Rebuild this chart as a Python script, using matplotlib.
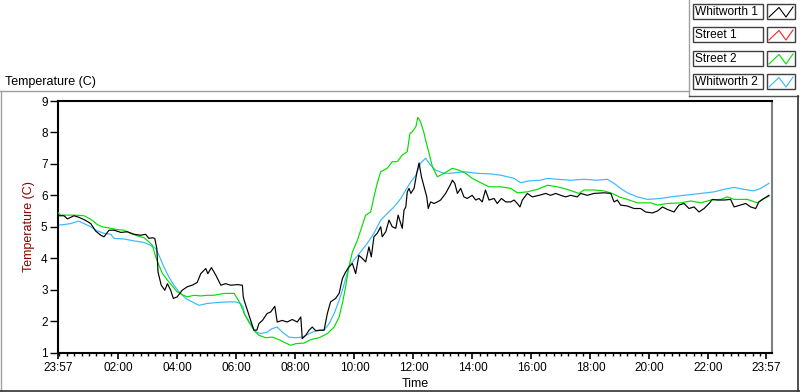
import matplotlib
matplotlib.use("Agg")
import matplotlib.pyplot as plt
from matplotlib.patches import Rectangle

plt.rcParams['font.family'] = ['Liberation Sans', 'DejaVu Sans']

# Series names / colours as in the LabVIEW legend
series_names = ["Whitworth 1", "Street 1", "Street 2", "Whitworth 2"]
series_colors = ["#000000", "#ff2020", "#00e000", "#38b8ff"]

# Elapsed hours since 23:57 and temperature (C)
w1_hours = [0.00, 0.20, 0.32, 0.54, 0.71, 0.94, 1.11, 1.28, 1.45, 1.56, 1.73, 1.90,
            2.13, 2.35, 2.58, 2.80, 2.97, 3.08, 3.20, 3.28, 3.35, 3.39, 3.50, 3.62,
            3.71, 3.82, 3.91, 4.04, 4.21, 4.38, 4.55, 4.72, 4.84, 5.01, 5.08, 5.20,
            5.35, 5.52, 5.68, 5.85, 6.08, 6.25, 6.28, 6.31, 6.42, 6.53, 6.64, 6.74,
            6.81, 6.93, 7.09, 7.21, 7.35, 7.43, 7.60, 7.77, 7.94, 8.11, 8.23, 8.28,
            8.40, 8.51, 8.62, 8.74, 8.91, 9.02, 9.13, 9.24, 9.41, 9.53, 9.64, 9.75,
            9.86, 9.98, 10.09, 10.20, 10.32, 10.43, 10.54, 10.62, 10.71, 10.82, 10.94,
            10.99, 11.11, 11.22, 11.33, 11.45, 11.53, 11.62, 11.67, 11.73, 11.79,
            11.84, 11.90, 11.96, 12.07, 12.16, 12.24, 12.32, 12.41, 12.50, 12.55,
            12.63, 12.75, 12.86, 12.97, 13.14, 13.29, 13.37, 13.45, 13.54, 13.65,
            13.76, 13.87, 14.04, 14.16, 14.27, 14.38, 14.49, 14.61, 14.78, 14.89,
            15.03, 15.18, 15.35, 15.46, 15.57, 15.66, 15.74, 15.91, 16.08, 16.31,
            16.53, 16.70, 16.87, 17.04, 17.21, 17.38, 17.60, 17.72, 17.94, 18.17,
            18.51, 18.74, 18.85, 18.96, 19.07, 19.30, 19.53, 19.75, 19.92, 20.15,
            20.32, 20.49, 20.66, 20.88, 21.05, 21.22, 21.39, 21.56, 21.73, 21.90,
            22.07, 22.18, 22.35, 22.58, 22.80, 22.92, 23.14, 23.31, 23.48, 23.65,
            23.76, 23.93, 24.10]
w1_temp = [5.35, 5.35, 5.25, 5.35, 5.30, 5.20, 5.10, 4.86, 4.73, 4.68, 4.89, 4.89,
           4.82, 4.84, 4.76, 4.73, 4.76, 4.63, 4.65, 4.63, 4.31, 3.56, 3.14, 2.98,
           3.19, 2.98, 2.72, 2.77, 2.98, 3.09, 3.14, 3.23, 3.51, 3.67, 3.51, 3.70,
           3.46, 3.14, 3.19, 3.14, 3.16, 3.14, 2.77, 2.66, 2.34, 2.02, 1.71, 1.71,
           1.92, 2.02, 2.24, 2.29, 2.47, 1.97, 2.02, 1.97, 2.05, 1.97, 2.13, 1.44,
           1.55, 1.71, 1.81, 1.69, 1.71, 1.71, 2.24, 2.61, 2.72, 2.88, 3.35, 3.56,
           3.72, 3.83, 3.51, 4.09, 3.99, 3.88, 4.36, 4.04, 4.68, 4.79, 5.00,
           4.68, 4.84, 5.21, 5.00, 4.95, 5.37, 5.10, 4.95, 5.53, 5.63,
           6.11, 6.22, 6.06, 6.22, 6.70, 7.03, 6.59, 6.27, 5.95, 5.58,
           5.79, 5.74, 5.79, 5.85, 6.06, 6.32, 6.48, 6.38, 6.06, 6.22,
           5.95, 5.90, 6.00, 5.85, 5.90, 5.79, 6.17, 5.85, 5.90, 5.74,
           5.90, 5.79, 5.79, 5.85, 5.74, 5.63, 5.85, 6.06, 5.95, 6.00,
           6.06, 6.00, 6.06, 6.00, 5.95, 6.00, 5.95, 6.06, 6.00, 6.06,
           6.08, 6.06, 5.79, 5.85, 5.69, 5.66, 5.58, 5.58, 5.47, 5.44,
           5.50, 5.63, 5.55, 5.47, 5.69, 5.74, 5.58, 5.63, 5.47, 5.58,
           5.74, 5.87, 5.85, 5.85, 5.87, 5.63, 5.69, 5.74, 5.63, 5.58,
           5.79, 5.90, 6.00]

s1_hours = []
s1_temp = []

s2_hours = [0.00, 0.09, 0.54, 0.88, 1.11, 1.22, 1.33, 1.50, 1.73, 2.01, 2.24, 2.46,
            2.69, 2.92, 3.08, 3.20, 3.31, 3.42, 3.54, 3.71, 3.87, 4.04, 4.21, 4.38,
            4.61, 4.84, 5.06, 5.29, 5.63, 5.97, 6.14, 6.27, 6.31, 6.47, 6.64, 6.81,
            7.04, 7.26, 7.49, 7.72, 7.89, 8.06, 8.34, 8.57, 8.85, 9.13, 9.36, 9.53,
            9.64, 9.75, 9.86, 9.98, 10.15, 10.26, 10.43, 10.60, 10.71, 10.82, 10.94,
            11.16, 11.33, 11.50, 11.67, 11.84, 11.93, 12.01, 12.13, 12.20, 12.29,
            12.41, 12.46, 12.58, 12.69, 12.86, 13.08, 13.37, 13.59, 13.82, 14.04,
            14.27, 14.61, 15.01, 15.35, 15.57, 15.91, 16.25, 16.59, 16.93, 17.26,
            17.66, 17.83, 18.17, 18.51, 18.79, 19.02, 19.30, 19.64, 20.09, 20.32,
            20.66, 21.11, 21.45, 21.79, 22.13, 22.47, 22.69, 22.92, 23.37, 23.71,
            23.87, 24.10]
s2_temp = [5.45, 5.37, 5.37, 5.35, 5.24, 5.16, 5.07, 5.00, 4.96, 4.91, 4.89, 4.79,
           4.71, 4.65, 4.52, 4.41, 4.04, 3.78, 3.51, 3.30, 3.12, 2.93, 2.84, 2.77,
           2.82, 2.80, 2.82, 2.82, 2.88, 2.88, 2.62, 2.35, 2.24, 1.97, 1.71, 1.55,
           1.47, 1.49, 1.41, 1.30, 1.23, 1.28, 1.30, 1.41, 1.47, 1.60, 1.81, 2.13,
           2.56, 3.09, 3.72, 4.20, 4.57, 4.89, 5.37, 5.47, 5.95, 6.38, 6.75,
           6.86, 7.07, 7.07, 7.28, 7.39, 7.97, 8.02, 8.18, 8.48, 8.34,
           7.97, 7.76, 7.33, 6.91, 6.59, 6.70, 6.86, 6.80, 6.70, 6.54,
           6.43, 6.27, 6.27, 6.22, 6.08, 6.11, 6.19, 6.32, 6.27, 6.19,
           6.06, 6.17, 6.17, 6.14, 6.06, 5.95, 5.87, 5.76, 5.76, 5.69,
           5.74, 5.76, 5.82, 5.76, 5.85, 5.87, 5.95, 5.87, 5.87, 5.76,
           5.87, 5.97]

w2_hours = [0.00, 0.20, 0.43, 0.71, 0.88, 1.11, 1.28, 1.56, 1.79, 1.90, 2.24, 2.58,
            2.92, 3.14, 3.31, 3.42, 3.59, 3.76, 3.93, 4.10, 4.33, 4.55, 4.78, 5.06,
            5.40, 5.74, 6.02, 6.19, 6.27, 6.33, 6.53, 6.70, 6.87, 7.09, 7.26, 7.43,
            7.60, 7.83, 8.06, 8.28, 8.51, 8.79, 9.02, 9.19, 9.36, 9.53, 9.69, 9.86,
            10.03, 10.26, 10.48, 10.71, 10.94, 11.16, 11.39, 11.62, 11.79, 11.96,
            12.13, 12.29, 12.46, 12.63, 12.80, 13.08, 13.31, 13.76, 14.21, 14.67,
            15.01, 15.46, 15.68, 15.97, 16.36, 16.59, 16.93, 17.38, 17.83, 18.28,
            18.62, 18.85, 19.07, 19.30, 19.64, 19.98, 20.43, 20.77, 21.22, 21.79,
            22.24, 22.58, 22.92, 23.25, 23.59, 23.82, 24.10]
w2_temp = [5.05, 5.07, 5.10, 5.18, 5.10, 5.00, 4.89, 4.79, 4.76, 4.63, 4.61, 4.55,
           4.50, 4.41, 4.31, 4.10, 3.72, 3.40, 3.14, 2.93, 2.72, 2.61, 2.50, 2.56,
           2.59, 2.61, 2.61, 2.56, 2.45, 2.20, 1.92, 1.65, 1.60, 1.65, 1.76, 1.81,
           1.65, 1.49, 1.47, 1.49, 1.60, 1.71, 1.71, 1.92, 2.24, 2.66, 3.14, 3.72,
           3.94, 4.20, 4.47, 4.79, 5.21, 5.42, 5.63, 5.90, 6.17, 6.43,
           6.64, 7.02, 7.18, 6.96, 6.80, 6.70, 6.70, 6.75, 6.70, 6.68,
           6.64, 6.54, 6.40, 6.46, 6.48, 6.54, 6.51, 6.48, 6.51, 6.48,
           6.51, 6.38, 6.22, 6.08, 5.95, 5.87, 5.90, 5.95, 6.00, 6.06,
           6.11, 6.19, 6.25, 6.19, 6.14, 6.22, 6.38]

tick_labels = ["23:57", "02:00", "04:00", "06:00", "08:00", "10:00", "12:00",
               "14:00", "16:00", "18:00", "20:00", "22:00", "23:57"]
y_ticks = [1, 2, 3, 4, 5, 6, 7, 8, 9]


def elapsed(label, start=23 * 60 + 57):
    h, m = label.split(":")
    return ((int(h) * 60 + int(m) - start) % 1440) / 60


tick_pos = [elapsed(t) for t in tick_labels]
tick_pos[-1] += 24
minor_pos = [(k * 15 + 3) / 60 for k in range(96)]

fig = plt.figure(figsize=(8, 3.92), dpi=100)

# panel frame (pixel coordinates)
bg = fig.add_axes([0, 0, 1, 1])
bg.set_xlim(0, 800)
bg.set_ylim(392, 0)
bg.axis('off')
bg.plot([0, 689], [91, 91], color='#a0a0a0', lw=1)
bg.plot([689, 689], [0, 96], color='#a0a0a0', lw=1)
bg.plot([689, 798], [96, 96], color='#505050', lw=1)
bg.plot([1, 1], [91, 391], color='#a0a0a0', lw=1)
bg.plot([0, 800], [390.5, 390.5], color='#303030', lw=1.2)
bg.plot([797.5, 797.5], [96, 391], color='#303030', lw=1.2)
bg.text(5, 82, "Temperature (C)", fontsize=9, va='center', ha='left')

# legend rows
row_tops = [4, 27, 51, 74]
for name, color, top in zip(series_names, series_colors, row_tops):
    bg.add_patch(Rectangle((692.5, top), 70, 15, facecolor='white',
                           edgecolor='#404040', lw=1))
    bg.add_patch(Rectangle((766.5, top), 28, 15, facecolor='white',
                           edgecolor='#404040', lw=1))
    bg.text(695, top + 7.8, name, fontsize=8.6, va='center', ha='left')
    bg.plot([769, 779, 786, 793], [top + 13, top + 3.5, top + 13, top + 3],
            color=color, lw=0.8)

ax = fig.add_axes([58 / 800, 1 - 352.5 / 392, (772 - 58) / 800, (352.5 - 101) / 392])
ax.plot(w2_hours, w2_temp, color=series_colors[3], lw=0.85, zorder=2)
ax.plot(s2_hours, s2_temp, color=series_colors[2], lw=0.85, zorder=3)
ax.plot(s1_hours, s1_temp, color=series_colors[1], lw=0.85, zorder=4)
ax.plot(w1_hours, w1_temp, color=series_colors[0], lw=0.85, zorder=5)

ax.set_xlim(0, (772 - 58) / 29.5)
ax.set_ylim(1, 9)
ax.set_xticks(tick_pos)
ax.set_xticklabels(tick_labels)
ax.set_xticks(minor_pos, minor=True)
ax.set_yticks(y_ticks)
ax.tick_params(axis='x', which='major', direction='out', length=4, width=1.2,
               pad=2.5, labelsize=8.5)
ax.tick_params(axis='x', which='minor', direction='out', length=2.5, width=1)
ax.tick_params(axis='y', direction='out', length=6, width=1, pad=1.5, labelsize=8.5)

for side in ['left', 'top', 'bottom']:
    ax.spines[side].set_color('black')
    ax.spines[side].set_linewidth(1.5)
ax.spines['right'].set_color('#808080')
ax.spines['right'].set_linewidth(1.5)

ax.set_ylabel("Temperature (C)", color='#8b0000', fontsize=9)
ax.yaxis.set_label_coords(-0.032, 0.5)
ax.set_xlabel("Time", fontsize=9)
ax.xaxis.set_label_coords(0.5, -0.1)

fig.savefig("out.png", dpi=100)
